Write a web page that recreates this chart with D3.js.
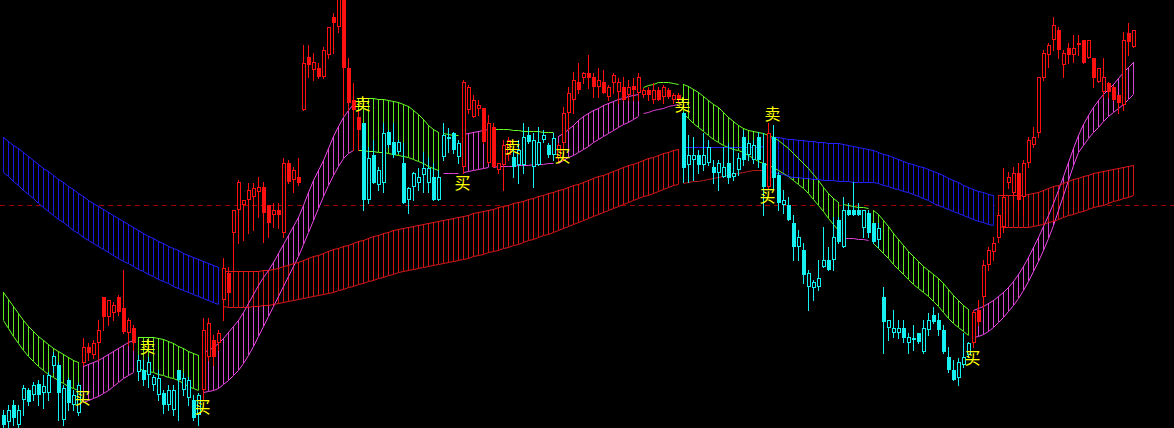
<!DOCTYPE html>
<html><head><meta charset="utf-8">
<script src="https://cdn.jsdelivr.net/npm/d3@7"></script>
<style>html,body{margin:0;padding:0;background:#000;overflow:hidden}svg{display:block}</style>
</head><body><svg id="chart" width="1174" height="428"></svg>
<script>
// ---- DATA (prices in chart units) ----
// candles: [open, high, low, close]
const ohlc = [
[13,18,0,3],[6,23,0,18],[23,28,3,10],[3,23,0,18],[28,43,13,40],[38,40,23,26],[33,46,28,43],[44,48,23,33],[35,53,20,42],[35,56,28,53],
[62,76,56,72],[63,66,8,35],[8,43,3,40],[48,50,18,25],[23,38,18,33],[15,45,13,43],[65,90,63,81],[81,85,68,75],[73,88,70,85],[85,108,68,98],
[131,131,98,111],[111,128,103,128],[115,126,108,123],[131,133,113,116],[120,158,95,96],[95,110,83,108],[100,103,78,85],[56,73,48,68],[58,68,43,48],[53,71,41,66],
[43,53,38,51],[33,58,28,50],[35,38,15,23],[23,43,18,38],[18,43,13,38],[58,58,8,48],[38,55,33,50],[30,51,23,48],[28,33,8,10],[13,35,3,33],
[38,110,28,98],[71,110,68,105],[88,93,63,71],[85,98,78,95],[128,170,108,160],[155,161,128,135],[195,218,158,218],[218,248,185,246],[223,228,188,228],[228,245,195,238],
[231,245,198,240],[236,251,211,241],[241,246,186,215],[223,223,191,205],[213,225,201,218],[218,225,200,213],[195,270,191,265],[265,268,245,246],[248,261,236,258],[251,270,243,245],
[318,383,318,365],[371,383,351,363],[358,375,348,366],[360,365,350,351],[351,381,350,378],[373,401,370,401],[411,415,375,405],[401,440,396,432],[440,445,313,360],[360,370,318,325],
[328,345,278,318],[311,318,278,298],[305,305,218,228],[228,281,225,270],[273,288,245,245],[243,261,238,258],[245,305,236,295],[296,298,281,283],[286,305,271,273],[276,288,275,286],
[265,285,225,225],[228,241,215,240],[241,256,228,255],[245,260,238,251],[253,276,236,260],[245,271,236,260],[251,265,228,228],[228,258,228,251],[271,305,268,293],[290,300,276,291],
[295,296,275,278],[271,288,265,285],[261,348,255,346],[318,343,315,341],[311,333,311,328],[319,328,313,323],[320,320,285,286],[265,313,265,305],[301,305,261,261],[258,265,255,265],
[263,288,238,283],[273,291,268,288],[271,278,251,261],[263,288,245,278],[263,305,255,291],[293,301,285,286],[261,295,241,288],[263,301,263,286],[288,298,286,293],[283,285,271,273],
[273,295,268,290],[270,285,266,283],[285,321,268,315],[315,341,298,335],[328,356,315,348],[346,365,335,338],[350,356,345,355],[355,373,340,350],[351,355,331,341],[341,360,331,348],
[346,358,335,335],[331,343,328,341],[345,355,335,353],[336,350,325,346],[341,351,328,328],[333,348,328,341],[342,350,328,338],[335,355,328,351],[333,340,331,338],[338,341,328,333],
[328,345,325,338],[338,341,328,328],[331,343,325,341],[338,340,330,331],[328,335,325,333],[333,335,326,328],[315,316,246,260],[263,293,246,273],[268,291,248,273],[273,278,255,263],
[263,295,258,273],[265,288,263,281],[261,268,245,255],[255,268,238,265],[251,281,251,261],[265,285,245,250],[251,281,248,255],[258,275,253,270],[291,298,263,268],[273,288,268,285],
[268,288,265,283],[291,296,261,268],[265,295,213,241],[241,305,240,295],[291,303,240,250],[253,256,218,225],[223,238,215,228],[223,231,208,208],[205,213,168,181],[181,198,168,191],
[178,185,145,153],[141,158,118,155],[140,148,128,146],[141,168,138,150],[161,201,161,168],[168,181,158,158],[168,211,158,191],[208,211,185,186],[181,231,181,218],[218,225,213,213],
[218,246,213,213],[218,225,213,213],[200,218,191,218],[215,218,191,195],[205,205,185,186],[188,205,181,200],[131,141,75,106],[100,108,88,108],[95,118,91,100],[95,108,90,100],
[100,108,86,90],[85,95,75,91],[90,103,78,88],[95,95,85,86],[76,108,75,100],[98,115,93,108],[113,121,105,106],[108,115,93,98],[98,103,75,76],[71,81,56,58],
[58,68,48,48],[50,70,43,66],[63,95,61,71],[73,86,71,85],[85,118,81,116],[118,128,103,106],[131,168,121,163],[163,181,158,178],[176,191,168,185],[190,215,186,213],
[201,260,196,231],[245,256,240,251],[235,261,223,255],[255,265,216,228],[231,268,213,265],[265,291,261,288],[283,301,281,291],[295,351,291,351],[350,378,348,375],[373,385,361,383],
[388,411,378,403],[398,401,370,378],[363,378,351,375],[380,385,365,373],[373,393,366,380],[383,393,373,385],[388,388,365,365],[370,388,370,388],[370,370,341,350],[346,360,346,360],
[336,370,331,351],[345,346,331,336],[341,343,328,328],[333,333,315,325],[323,396,318,388],[395,405,373,386],[381,398,381,398]
];
// candle colour runs: R = red (trend up), C = cyan (trend down)
const candleTrend = [['C',16],['R',11],['C',13],['R',32],['C',20],['R',10],['C',9],['R',25],['C',17],['R',1],['C',40],['R',33]];

// long band (blue / red cloud)
const cloudUpper = [
291,287,283,280,276,272,268,264,260,257,253,249,246,242,239,235,232,228,225,222,219,216,213,210,207,204,201,198,195,192,190,187,185,182,180,178,175,173,171,169,167,165,163,161,
157,157,157,157,157,157,157,157,158,158,159,160,162,163,165,166,168,170,172,173,175,177,179,180,182,183,185,187,188,190,192,193,195,196,198,199,200,201,202,203,204,205,206,207,208,209,210,211,212,213,215,216,217,218,219,221,222,223,225,226,227,229,230,232,233,235,236,238,239,241,243,244,246,248,250,252,253,255,257,259,261,263,264,266,268,270,271,273,275,276,278,279,
281,281,281,281,281,281,281,281,281,281,281,281,281,281,281,281,282,
288,291,291,290,289,289,288,288,287,287,286,286,285,285,285,284,283,282,281,280,279,278,276,274,273,271,269,267,265,264,262,261,259,257,255,253,250,248,246,243,241,239,237,236,234,233,
233,233,233,233,233,233,234,235,236,238,240,242,243,245,247,249,250,252,253,255,256,257,258,259,260,261,262,263];
const cloudLower = [
256,252,247,243,238,234,230,225,221,217,213,209,206,202,198,195,191,188,185,182,179,176,173,170,167,165,162,159,157,154,152,149,147,145,142,140,138,136,134,132,130,128,126,124,
122,121,121,121,121,121,122,122,123,123,124,125,126,127,128,129,130,131,132,133,134,135,136,138,139,141,142,144,145,147,148,150,151,153,154,156,157,158,159,160,161,162,163,164,165,166,167,168,169,170,172,173,174,176,177,178,180,181,183,184,186,188,189,191,193,194,196,198,200,202,204,206,208,210,212,214,216,218,220,222,224,226,228,230,232,233,235,237,239,241,243,244,
245,246,247,247,248,249,250,251,252,253,254,255,256,257,258,258,258,
257,256,255,254,252,251,251,250,250,249,249,248,248,248,247,247,247,246,246,246,246,246,245,243,242,240,239,237,236,234,232,230,228,225,223,221,219,217,215,213,211,209,207,206,204,203,
202,201,201,201,201,201,201,202,203,204,206,207,209,211,213,214,216,217,219,221,222,223,225,227,228,230,231,233];
// B = blue, R = red, N = lines only
const cloudTrend = [['B',44],['R',92],['N',17],['B',46],['R',28]];

// short band (green / magenta ribbon)
const ribbonUpper = [
136,129,122,115,108,102,97,92,88,84,80,77,74,71,68,66,
62,64,66,68,71,74,77,80,83,86,88,
91,91,91,91,90,89,87,85,82,80,77,75,73,
76,78,81,85,90,96,102,108,116,125,134,143,151,158,166,175,184,193,202,211,223,236,248,258,268,280,292,302,311,318,324,
330,330,330,330,329,329,328,327,326,324,322,318,314,309,303,299,296,
295,294,293,293,
294,295,296,297,298,299,
299,299,299,299,298,298,297,297,297,297,296,296,296,
292,295,299,303,308,312,315,318,320,323,325,327,329,330,332,333,334,
341,343,344,346,346,346,345,344,
344,342,339,336,332,328,324,321,316,311,307,303,300,298,297,296,295,293,291,288,284,280,275,270,265,260,254,248,241,235,230,226,
224,223,222,221,221,220,
218,214,208,202,195,189,183,177,172,167,162,158,154,150,145,139,133,128,123,119,
118,120,122,125,128,132,136,141,147,154,162,171,181,191,202,213,225,238,252,266,280,293,304,313,321,328,334,339,344,350,356,361,366];
const ribbonLower = [
108,100,92,85,78,72,67,62,58,54,51,48,45,42,40,38,
26,28,30,32,35,38,42,46,50,53,56,
60,58,57,56,54,53,51,50,48,45,42,40,38,
36,37,38,40,44,48,53,58,65,73,82,92,102,112,122,132,142,152,162,172,184,196,208,220,232,243,253,262,270,275,278,
278,278,277,277,276,276,275,274,273,272,271,269,267,265,262,260,258,
255,255,255,255,
256,257,258,259,260,261,
261,262,262,262,262,263,263,263,264,264,264,265,265,
265,268,271,273,276,279,282,286,289,292,295,298,301,304,306,309,312,
315,316,318,319,320,322,323,324,
315,310,305,301,297,293,289,286,283,281,279,278,276,273,270,267,265,263,261,258,255,252,248,244,240,235,229,223,217,210,204,198,
190,190,190,189,189,188,
185,180,175,170,164,159,154,149,144,140,136,132,127,122,116,110,105,101,97,93,
91,92,94,97,101,106,111,117,123,130,138,147,157,167,178,190,203,218,233,248,263,276,283,290,296,301,307,312,316,320,324,329,334];
// G = green, M = magenta, N = lines only
const ribbonTrend = [['G',16],['M',11],['G',13],['M',31],['G',17],['N',4],['M',6],['N',13],['M',17],['N',8],['G',32],['N',6],['G',20],['M',33]];

const refLevel = 223;
const signals = [
 {t:'买', i:16, p:31}, {t:'卖', i:29, p:82}, {t:'买', i:40, p:22}, {t:'卖', i:72, p:325},
 {t:'买', i:92, p:246}, {t:'卖', i:102, p:282}, {t:'买', i:112, p:273}, {t:'卖', i:136, p:324},
 {t:'买', i:153, p:233}, {t:'卖', i:154, p:315}, {t:'买', i:194, p:71}
];

// ---- DRAW ----
const W = 1174, H = 428, N = ohlc.length;
const svg = d3.select('#chart');
svg.append('rect').attr('width', W).attr('height', H).attr('fill', '#000');
const x = d3.scalePoint().domain(d3.range(N)).range([3, 1133]);
const y = d3.scaleLinear().domain([0, 428]).range([428, 0]);
const X = i => Math.round(x(i)) + 0.5;
const Y = v => Math.round(y(v));

function expand(runs) { const out = []; runs.forEach(([k, n]) => { for (let j = 0; j < n; j++) out.push(k); }); return out; }
function segs(states) {
  const out = []; let s = 0;
  for (let i = 1; i <= states.length; i++) {
    if (i === states.length || states[i] !== states[s]) { out.push({k: states[s], idx: d3.range(s, i)}); s = i; }
  }
  return out;
}

// reference dashed line
svg.append('line').attr('x1', 0).attr('x2', W).attr('y1', Y(refLevel) + 0.5).attr('y2', Y(refLevel) + 0.5)
  .attr('stroke', '#a00000').attr('stroke-width', 1).attr('stroke-dasharray', '5,4').attr('shape-rendering', 'crispEdges');

const gBands = svg.append('g');
const gLines = svg.append('g').attr('fill', 'none').attr('stroke-width', 1);

function band(up, lo, trend, fillCol, lineCol, nUp, nLo) {
  const st = expand(trend);
  const g = gBands.append('g');
  const area = d3.area().x(i => X(i)).y0(i => y(lo[i])).y1(i => y(up[i]));
  const line = v => d3.line().x(i => X(i)).y(i => Y(v[i]) + 0.5);
  segs(st).forEach(s => {
    if (s.k !== 'N') {
      g.append('path').attr('d', area(s.idx)).attr('fill', '#000');
      g.selectAll(null).data(s.idx).join('line')
        .attr('x1', i => X(i)).attr('x2', i => X(i))
        .attr('y1', i => Y(up[i])).attr('y2', i => Y(lo[i]))
        .attr('stroke', fillCol[s.k]).attr('stroke-width', 1).attr('shape-rendering', 'crispEdges');
      gLines.append('path').attr('d', line(up)(s.idx)).attr('stroke', lineCol[s.k]);
      gLines.append('path').attr('d', line(lo)(s.idx)).attr('stroke', lineCol[s.k]);
    } else {
      gLines.append('path').attr('d', line(up)(s.idx)).attr('stroke', nUp);
      gLines.append('path').attr('d', line(lo)(s.idx)).attr('stroke', nLo);
    }
  });
}
band(ribbonUpper, ribbonLower, ribbonTrend, {G: '#5ae81c', M: '#d844d0'}, {G: '#66ff22', M: '#f048e8'}, '#66ff22', '#e040d8');
band(cloudUpper, cloudLower, cloudTrend, {B: '#1818e0', R: '#d01414'}, {B: '#2222ff', R: '#e01818'}, '#2222ff', '#b81c1c');

// candles
const cTrend = expand(candleTrend);
const gC = svg.append('g').attr('shape-rendering', 'crispEdges');
ohlc.forEach(([o, h, l, c], i) => {
  const col = cTrend[i] === 'R' ? '#ff1010' : '#16f0f0';
  const cx = Math.round(x(i));
  gC.append('line').attr('x1', cx + 0.5).attr('x2', cx + 0.5).attr('y1', Y(h)).attr('y2', Y(l) + 1).attr('stroke', col);
  const top = Y(Math.max(o, c)), bot = Y(Math.min(o, c));
  if (o > c) {
    gC.append('rect').attr('x', cx - 1).attr('y', top).attr('width', 4).attr('height', Math.max(1, bot - top)).attr('fill', col);
  } else {
    gC.append('rect').attr('x', cx - 0.5).attr('y', top + 0.5).attr('width', 3).attr('height', Math.max(1, bot - top - 1))
      .attr('fill', '#000').attr('stroke', col).attr('stroke-width', 1);
  }
});

// signal labels
svg.append('g').selectAll('text').data(signals).join('text')
  .attr('x', d => x(d.i) - 0.5).attr('y', d => y(d.p))
  .attr('text-anchor', 'middle').attr('dominant-baseline', 'central')
  .attr('font-family', '"Noto Sans CJK SC", sans-serif').attr('font-size', 16)
  .attr('fill', '#ffff00').text(d => d.t);
</script></body></html>
